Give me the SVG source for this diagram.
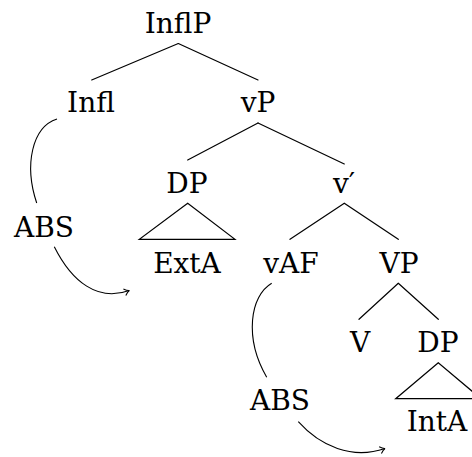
<svg xmlns="http://www.w3.org/2000/svg" width="472" height="457" viewBox="0 0 472 457">
  <style>
    text { font-family: 'DejaVu Serif', serif; font-size: 28px; fill: #000; text-anchor: middle; }
    .edge { stroke: #000; stroke-width: 1.2; fill: none; stroke-linecap: round; }
    .move { stroke: #000; stroke-width: 1.1; fill: none; }
  </style>
  <defs>
    <marker id="tip" viewBox="-6 -5 8 10" markerWidth="8" markerHeight="10" refX="0" refY="0" orient="auto" markerUnits="userSpaceOnUse">
      <path d="M-5,-3.5 Q-2,-0.5 0,0 Q-2,0.5 -5,3.5" fill="none" stroke="#000" stroke-width="1.1"/>
    </marker>
  </defs>
  <rect width="472" height="457" fill="#fff"/>

  <!-- tree edges and movement arrows -->
  <g id="connectors">
    <path class="edge" d="M178.3,43.5 L91.7,80"/>
    <path class="edge" d="M178.3,43.5 L258,80"/>
    <path class="edge" d="M258,123 L187.7,160"/>
    <path class="edge" d="M258,123 L344.3,164"/>
    <path class="edge" d="M344.3,203.3 L290,239.3"/>
    <path class="edge" d="M344.3,203.3 L398.3,239.3"/>
    <path class="edge" d="M398.3,283.3 L359,319.3"/>
    <path class="edge" d="M398.3,283.3 L438.3,319.3"/>
    <!-- DP roofs -->
    <path class="edge" d="M187.7,203.3 L139.3,239.3 L235,239.3 Z"/>
    <path class="edge" d="M438.3,362.7 L395.7,398.7 L481,398.7 Z"/>
    <!-- movement paths -->
    <path class="move" d="M57,119 C32,127 24,165 36.7,203"/>
    <path class="move" marker-end="url(#tip)" d="M54.3,246.7 C72,282 98,302 129.3,290.5"/>
    <path class="move" d="M271.7,283.3 C250,296 244,338 266.7,377.3"/>
    <path class="move" marker-end="url(#tip)" d="M298.3,421.7 C320,446 352,460 385,448.5"/>
  </g>

  <g id="n-InflP"><text x="178" y="33">InflP</text></g>
  <g id="n-Infl"><text x="91" y="112">Infl</text></g>
  <g id="n-vP"><text x="258" y="112">vP</text></g>
  <g id="n-DP1"><text x="187" y="193">DP</text></g>
  <g id="n-vbar"><text x="344" y="193">v′</text></g>
  <g id="n-ABS1"><text x="44" y="237">ABS</text></g>
  <g id="n-ExtA"><text x="187" y="273">ExtA</text></g>
  <g id="n-vAF"><text x="291" y="273">vAF</text></g>
  <g id="n-VP"><text x="399" y="273">VP</text></g>
  <g id="n-V"><text x="360" y="352">V</text></g>
  <g id="n-DP2"><text x="438" y="352">DP</text></g>
  <g id="n-ABS2"><text x="280" y="410">ABS</text></g>
  <g id="n-IntA"><text x="437" y="431">IntA</text></g>
</svg>
